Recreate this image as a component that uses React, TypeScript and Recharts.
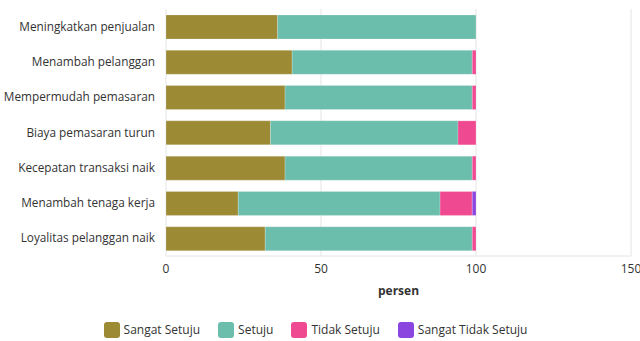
import React from "react";
import { BarChart, Bar, XAxis, YAxis, CartesianGrid, Legend } from "recharts";

const categories = [
  "Meningkatkan penjualan",
  "Menambah pelanggan",
  "Mempermudah pemasaran",
  "Biaya pemasaran turun",
  "Kecepatan transaksi naik",
  "Menambah tenaga kerja",
  "Loyalitas pelanggan naik",
];
const sangatSetuju = [36.0, 40.7, 38.4, 33.7, 38.4, 23.3, 32.0];
const setuju = [64.0, 58.1, 60.4, 60.5, 60.4, 65.1, 66.8];
const tidakSetuju = [0, 1.2, 1.2, 5.8, 1.2, 10.4, 1.2];
const sangatTidakSetuju = [0, 0, 0, 0, 0, 1.2, 0];
const xTicks = [0, 50, 100, 150];

const seriesNames = ["Sangat Setuju", "Setuju", "Tidak Setuju", "Sangat Tidak Setuju"];
const colors = ["#9c8a35", "#6bbdac", "#ef4a91", "#8b46e0"];
const keys = ["ss", "s", "ts", "sts"];

const data = categories.map((c, i) => ({
  name: c,
  ss: sangatSetuju[i],
  s: setuju[i],
  ts: tidakSetuju[i],
  sts: sangatTidakSetuju[i],
}));

const FONT = "'Open Sans', 'Noto Sans', sans-serif";

const YTick = (props: any) => {
  const { x, y, payload } = props;
  return (
    <text
      x={x - 3}
      y={y}
      dy={4}
      textAnchor="end"
      fontSize={11.8}
      fill="#333"
      fontFamily={FONT}
    >
      {payload.value}
    </text>
  );
};

const LegendContent = () => (
  <div
    style={{
      display: "flex",
      justifyContent: "center",
      alignItems: "center",
      paddingTop: 20,
      fontFamily: FONT,
      fontSize: 12,
      color: "#333",
    }}
  >
    {seriesNames.map((n, i) => (
      <div key={n} style={{ display: "flex", alignItems: "center", marginRight: i < 3 ? 18 : 0 }}>
        <div
          style={{
            width: 16,
            height: 16,
            borderRadius: 3,
            background: colors[i],
            marginRight: 4,
          }}
        />
        <span>{n}</span>
      </div>
    ))}
  </div>
);

export default function App() {
  return (
    <div style={{ position: "absolute", left: 0, top: 0, width: 640, height: 341, background: "#fff" }}>
      <BarChart
        width={640}
        height={341}
        data={data}
        layout="vertical"
        margin={{ top: 9, right: 9, left: 0, bottom: 0 }}
        barSize={24}
      >
        <CartesianGrid horizontal={false} stroke="#e4e4e4" />
        <XAxis
          type="number"
          domain={[0, 150]}
          ticks={xTicks}
          height={45}
          axisLine={{ stroke: "#e4e4e4" }}
          tickLine={false}
          tick={{ fontSize: 12, fill: "#333", fontFamily: FONT }}
          label={{
            value: "persen",
            position: "insideBottom",
            offset: 6,
            style: { fontSize: 12, fontWeight: "bold", fill: "#333", fontFamily: FONT },
          }}
        />
        <YAxis
          type="category"
          dataKey="name"
          width={166}
          axisLine={false}
          tickLine={false}
          tick={<YTick />}
          interval={0}
        />
        <Legend verticalAlign="bottom" height={40} content={<LegendContent />} />
        {keys.map((k, i) => (
          <Bar
            key={k}
            dataKey={k}
            name={seriesNames[i]}
            stackId="a"
            fill={colors[i]}
            stroke="rgba(255,255,255,0.35)"
            strokeWidth={0.6}
            isAnimationActive={false}
          />
        ))}
      </BarChart>
    </div>
  );
}
